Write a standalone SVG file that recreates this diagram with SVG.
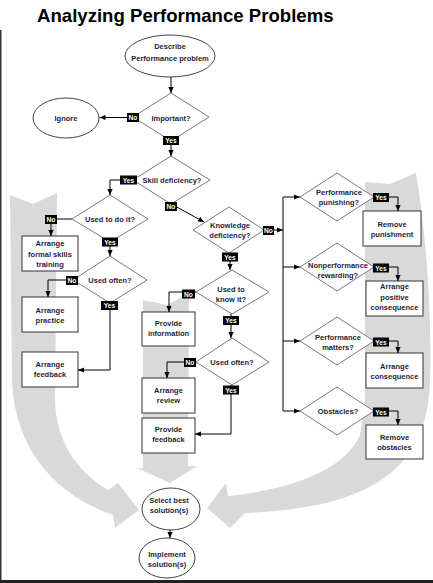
<svg xmlns="http://www.w3.org/2000/svg" width="433" height="583" viewBox="0 0 433 583">
<style>
.band{fill:#d9d9d9;stroke:none}
.box{fill:#fff;stroke:#333;stroke-width:1}
.dia{fill:#fff;stroke:#7a7a7a;stroke-width:1}
.ell{fill:#fff;stroke:#444;stroke-width:1}
.t{font-family:"Liberation Sans",Arial,sans-serif;font-size:7.5px;font-weight:bold;fill:#1e1e3c;text-anchor:middle}
.edge{fill:none;stroke:#000;stroke-width:1}
.lbl{fill:#000}
.lt{font-family:"Liberation Sans",Arial,sans-serif;font-size:6.6px;font-weight:bold;fill:#fff;text-anchor:middle}
</style>
<defs>
<marker id="ah" viewBox="0 0 6 6" refX="6" refY="3" markerWidth="6" markerHeight="6" orient="auto" markerUnits="userSpaceOnUse"><path d="M0,0.4 L6,3 L0,5.6 z" fill="#000"/></marker>
</defs>
<rect x="0" y="0" width="433" height="583" fill="#fff"/>
<rect x="0" y="30" width="1.5" height="553" fill="#333"/>
<rect x="0" y="580" width="433" height="3" fill="#222"/>
<text x="37" y="22" style="font-family:'Liberation Sans',Arial,sans-serif;font-size:18.6px;font-weight:bold;fill:#000">Analyzing Performance Problems</text>

<g id="bands">
<path class="band" d="M10,195 L33,204 L57,193 L55,400 C56,440 75,470 108,490 L118,483 L139,510 L115,528 L113,515 C60,497 14,452 12,380 Z"/>
<path class="band" d="M143,300 L167,305 L189,293 L188,466 L197,466 L170,483 L137,468 L143,468 Z"/>
<path class="band" d="M365,182 L390,184 L416,173 C427,240 432,320 430,380 C428,470 370,508 245,513 L230,528 L207,508 L226,483 L228,496 C290,490 345,470 360,435 L365,400 Z"/>
</g>

<g id="describe"><ellipse class="ell" cx="170" cy="56" rx="45" ry="21"/><text class="t" x="170" y="49">Describe</text><text class="t" x="170" y="61">Performance problem</text></g>
<g id="ignore"><ellipse class="ell" cx="66" cy="118" rx="33" ry="20"/><text class="t" x="66" y="121">Ignore</text></g>
<g id="important"><polygon class="dia" points="171,93 209,117 171,141 133,117"/><text class="t" x="171" y="120.5">Important?</text></g>
<g id="skill"><polygon class="dia" points="171,156 210,180 171,204 133,180"/><text class="t" x="172" y="183">Skill deficiency?</text></g>
<g id="usedtodo"><polygon class="dia" points="110,195 148,219 110,242 72,219"/><text class="t" x="110" y="221.5">Used to do it?</text></g>
<g id="formal"><rect class="box" x="22" y="236" width="56" height="35"/><text class="t" x="50" y="246">Arrange</text><text class="t" x="50" y="256.5">formal skills</text><text class="t" x="50" y="267">training</text></g>
<g id="usedoften1"><polygon class="dia" points="110,256 147,280 110,303 73,280"/><text class="t" x="110" y="283">Used often?</text></g>
<g id="practice"><rect class="box" x="22" y="297" width="56" height="35"/><text class="t" x="50" y="312.5">Arrange</text><text class="t" x="50" y="322.5">practice</text></g>
<g id="feedback1"><rect class="box" x="22" y="352" width="56" height="35"/><text class="t" x="50" y="367">Arrange</text><text class="t" x="50" y="377">feedback</text></g>
<g id="knowledge"><polygon class="dia" points="229,207 264,230 229,253 193,230"/><text class="t" x="230" y="228">Knowledge</text><text class="t" x="230" y="238">deficiency?</text></g>
<g id="usedtoknow"><polygon class="dia" points="232,270 269,292 232,314 196,292"/><text class="t" x="231" y="291.5">Used to</text><text class="t" x="231" y="302">know it?</text></g>
<g id="info"><rect class="box" x="142" y="312" width="53" height="34"/><text class="t" x="168.5" y="326">Provide</text><text class="t" x="168.5" y="336">information</text></g>
<g id="usedoften2"><polygon class="dia" points="232,338 269,362 232,385 196,362"/><text class="t" x="232" y="365">Used often?</text></g>
<g id="review"><rect class="box" x="142" y="378" width="53" height="35"/><text class="t" x="168.5" y="392.5">Arrange</text><text class="t" x="168.5" y="402.5">review</text></g>
<g id="feedback2"><rect class="box" x="142" y="418" width="53" height="35"/><text class="t" x="168.5" y="432">Provide</text><text class="t" x="168.5" y="442">feedback</text></g>
<g id="punishing"><polygon class="dia" points="337,173 374,197 337,221 300,197"/><text class="t" x="339" y="195">Performance</text><text class="t" x="339" y="205">punishing?</text></g>
<g id="punishment"><rect class="box" x="363" y="211" width="58" height="35"/><text class="t" x="392" y="226.5">Remove</text><text class="t" x="392" y="236.5">punishment</text></g>
<g id="rewarding"><polygon class="dia" points="337,243 374,267 337,291 300,267"/><text class="t" x="338" y="267.5">Nonperformance</text><text class="t" x="338" y="277.5">rewarding?</text></g>
<g id="positive"><rect class="box" x="366" y="281" width="57" height="35"/><text class="t" x="394.5" y="289">Arrange</text><text class="t" x="394.5" y="299.5">positive</text><text class="t" x="394.5" y="310">consequence</text></g>
<g id="matters"><polygon class="dia" points="337,317 374,341 337,365 300,341"/><text class="t" x="338" y="339.5">Performance</text><text class="t" x="338" y="349.5">matters?</text></g>
<g id="consequence"><rect class="box" x="366" y="353" width="57" height="35"/><text class="t" x="394.5" y="368.5">Arrange</text><text class="t" x="394.5" y="378.5">consequence</text></g>
<g id="obstaclesq"><polygon class="dia" points="337,387 374,411 337,435 300,411"/><text class="t" x="338" y="413.5">Obstacles?</text></g>
<g id="obstacles"><rect class="box" x="366" y="425" width="57" height="34"/><text class="t" x="394.5" y="439.5">Remove</text><text class="t" x="394.5" y="450">obstacles</text></g>
<g id="select"><ellipse class="ell" cx="171" cy="509" rx="29" ry="21"/><text class="t" x="169" y="503">Select best</text><text class="t" x="169" y="513">solution(s)</text></g>
<g id="implement"><ellipse class="ell" cx="167" cy="558" rx="28" ry="20"/><text class="t" x="167" y="557">Implement</text><text class="t" x="167" y="567">solution(s)</text></g>

<g id="connectors">
<path class="edge" d="M171,77 V93" marker-end="url(#ah)"/>
<path class="edge" d="M133,117.5 H99.5" marker-end="url(#ah)"/>
<path class="edge" d="M171,141 V156" marker-end="url(#ah)"/>
<path class="edge" d="M133,180 H110 V195" marker-end="url(#ah)"/>
<path class="edge" d="M175,206 L204,222" marker-end="url(#ah)"/>
<path class="edge" d="M72,219 H51 V236" marker-end="url(#ah)"/>
<path class="edge" d="M110,242 V256" marker-end="url(#ah)"/>
<path class="edge" d="M73,280 H48 V297" marker-end="url(#ah)"/>
<path class="edge" d="M110,303 V370 H78" marker-end="url(#ah)"/>
<path class="edge" d="M230,253 V270" marker-end="url(#ah)"/>
<path class="edge" d="M264,230 H283" marker-end="url(#ah)"/>
<path class="edge" d="M283,197 V411"/>
<path class="edge" d="M283,197 H300" marker-end="url(#ah)"/>
<path class="edge" d="M283,267 H300" marker-end="url(#ah)"/>
<path class="edge" d="M283,341 H300" marker-end="url(#ah)"/>
<path class="edge" d="M283,411 H300" marker-end="url(#ah)"/>
<path class="edge" d="M374,197 H398 V211" marker-end="url(#ah)"/>
<path class="edge" d="M374,267 H398 V281" marker-end="url(#ah)"/>
<path class="edge" d="M374,341 H398 V353" marker-end="url(#ah)"/>
<path class="edge" d="M374,411 H398 V425" marker-end="url(#ah)"/>
<path class="edge" d="M196,292 H169 V312" marker-end="url(#ah)"/>
<path class="edge" d="M231,314 V338" marker-end="url(#ah)"/>
<path class="edge" d="M196,362 H167 V378" marker-end="url(#ah)"/>
<path class="edge" d="M231,385 V434 H195" marker-end="url(#ah)"/>
<path class="edge" d="M170,530 V538" marker-end="url(#ah)"/>

<rect class="lbl" x="127" y="113" width="12" height="9"/><text class="lt" x="133" y="120">No</text>
<rect class="lbl" x="163" y="136" width="16" height="9"/><text class="lt" x="171" y="143">Yes</text>
<rect class="lbl" x="120" y="175.5" width="17" height="9"/><text class="lt" x="128.5" y="182.5">Yes</text>
<rect class="lbl" x="165" y="202" width="12" height="9"/><text class="lt" x="171" y="209">No</text>
<rect class="lbl" x="45" y="215" width="12" height="9"/><text class="lt" x="51" y="222">No</text>
<rect class="lbl" x="102" y="237.5" width="16" height="9"/><text class="lt" x="110" y="244.5">Yes</text>
<rect class="lbl" x="66" y="276" width="12" height="9"/><text class="lt" x="72" y="283">No</text>
<rect class="lbl" x="101" y="301" width="17" height="9"/><text class="lt" x="109.5" y="308">Yes</text>
<rect class="lbl" x="222" y="252.5" width="16" height="9"/><text class="lt" x="230" y="259.5">Yes</text>
<rect class="lbl" x="263" y="226" width="11" height="9"/><text class="lt" x="268.5" y="233">No</text>
<rect class="lbl" x="182" y="289.5" width="13" height="9"/><text class="lt" x="188.5" y="296.5">No</text>
<rect class="lbl" x="223" y="316" width="16" height="9"/><text class="lt" x="231" y="323">Yes</text>
<rect class="lbl" x="184" y="358" width="12" height="9"/><text class="lt" x="190" y="365">No</text>
<rect class="lbl" x="223" y="385.5" width="16" height="9"/><text class="lt" x="231" y="392.5">Yes</text>
<rect class="lbl" x="373" y="193" width="16" height="9"/><text class="lt" x="381" y="200">Yes</text>
<rect class="lbl" x="373" y="263.5" width="16" height="9"/><text class="lt" x="381" y="270.5">Yes</text>
<rect class="lbl" x="373" y="337.5" width="16" height="9"/><text class="lt" x="381" y="344.5">Yes</text>
<rect class="lbl" x="373" y="407.5" width="16" height="9"/><text class="lt" x="381" y="414.5">Yes</text>
</g>
</svg>
